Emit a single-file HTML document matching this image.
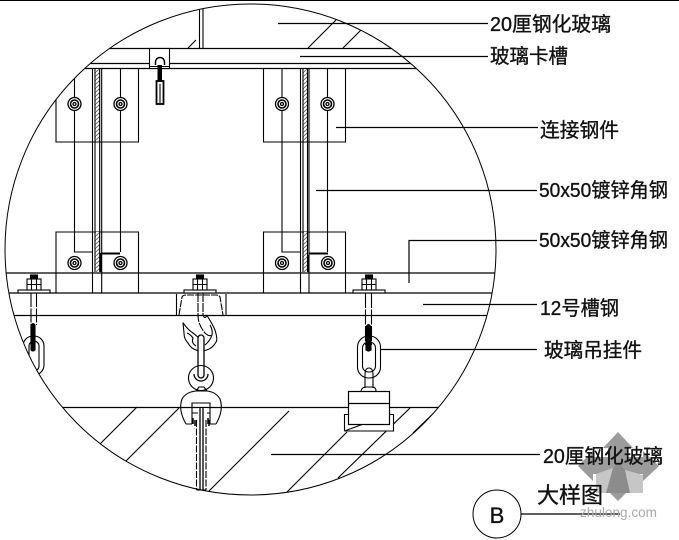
<!DOCTYPE html>
<html><head><meta charset="utf-8"><style>
html,body{margin:0;padding:0;background:#fff;width:679px;height:540px;overflow:hidden}
svg{display:block}
text{font-family:"Liberation Sans","WenQuanYi Zen Hei","Noto Sans CJK SC",sans-serif;fill:#111;font-size:20px;stroke:#111;stroke-width:.35px}
</style></head><body>
<svg width="679" height="540" viewBox="0 0 679 540" xmlns="http://www.w3.org/2000/svg">
<defs>
<clipPath id="c"><circle cx="250.5" cy="249.5" r="245.5"/></clipPath>
<pattern id="h" width="4" height="4" patternUnits="userSpaceOnUse"><rect width="4" height="4" fill="#fff"/><path d="M0 4L4 0" stroke="#777" stroke-width="1"/></pattern>
<g id="bolt" fill="#fff" stroke="#000" stroke-width="1.3"><circle r="6.5"/><circle r="4" stroke-width="1.6"/><circle r="1.5"/></g>
<g id="nut" fill="#fff" stroke="#000" stroke-width="1.1">
<rect x="-16" y="-3" width="32" height="3"/>
<rect x="-3.5" y="-18" width="7" height="4" fill="#000"/>
<rect x="-7" y="-14" width="14" height="11"/>
<path d="M-2.5 -14V-3M2.5 -14V-3M-7 -8.500H7"/>
</g>
</defs>
<rect width="679" height="540" fill="#fff"/>
<rect x="0" y="0" width="679" height="1" fill="#000"/>

<!-- watermark -->
<g>
<path d="M618 432L633 448H628V457H643V451L659 466L643 481V474H628V486H633L618 501L603 486H608V474H593V481L578 466L593 451V457H608V448H603Z" fill="#9c9c9c"/>
<path d="M596 474L613 468L610 493H596Z M625 470L643 475V493H625Z" fill="#c6c6c6"/>
<path d="M613 468L618 462L625 470L630 493H606Z" fill="#8c8c8c"/>
</g>

<g clip-path="url(#c)" fill="none" stroke="#000" stroke-width="1.1">
<!-- top glass -->
<path d="M199.500 0V48M203 0V48"/>
<path d="M188 48L196 40M308 48L338 18M343 48L364 27"/>
<path d="M0 48.500H679M0 63.500H679M0 68.500H679" stroke-width="1.2"/>
<!-- plates -->
<path d="M56 68V142H138.500V68M263.500 68V142H345.500V68"/>
<path d="M56 293V232H138.500V293M263.500 293V232H345.500V293"/>
<!-- hatch strips -->
<rect x="95" y="69" width="5" height="72" fill="url(#h)" stroke="none"/>
<rect x="303" y="69" width="5" height="72" fill="url(#h)" stroke="none"/>
<rect x="95" y="232" width="5" height="40" fill="url(#h)" stroke="none"/>
<rect x="303" y="232" width="5" height="40" fill="url(#h)" stroke="none"/>
<!-- uprights -->
<path d="M74.500 68V252H93M120.500 68V252"/>
<path d="M92.500 68V293M95 68V272M99.700 68V272M101.700 68V293"/>
<path d="M282 68V252H300M327.500 68V252"/>
<path d="M300.500 68V293M303 68V272M307.500 68V272M309 68V293"/>
<path d="M101 253.500H120M309 253.500H328M100.500 253V272M308.500 255V272" stroke-width="2"/>
<!-- long horizontals -->
<path d="M0 273H679M0 293H679M0 315.500H679" stroke-width="1.2"/>
<path d="M0 407.500H679" stroke-width="1.2"/>
<!-- lower hatches -->
<path d="M137 407L95 449M179 408L130 457L100 487M289 411L209 491M347 432L287 492M410 408L338 478M440 407L413 433"/>
</g>

<!-- clip bracket -->
<g fill="none" stroke="#000" stroke-width="1.1">
<rect x="149.500" y="48.500" width="20" height="20" fill="#fff"/>
<path d="M149.500 66.500H169.500"/>
<path d="M155.500 65V62a4.500 4.500 0 0 1 9 0V65" stroke-width="1.5"/>
<rect x="157.500" y="65" width="4.500" height="16" fill="#000" stroke="none"/>
<rect x="156.500" y="81" width="7" height="23" fill="#fff" stroke-width="1.8"/>
<path d="M160 84V103"/>
</g>

<g>
<use href="#bolt" x="74.500" y="104"/><use href="#bolt" x="120.500" y="104"/>
<use href="#bolt" x="282" y="104"/><use href="#bolt" x="327.500" y="104"/>
<use href="#bolt" x="74.500" y="263"/><use href="#bolt" x="120.500" y="263"/>
<use href="#bolt" x="282" y="263"/><use href="#bolt" x="328" y="263"/>
</g>

<!-- left hanger -->
<g fill="none" stroke="#000" stroke-width="1.1" clip-path="url(#c)">
<path d="M31 293V345M36.500 293V325" stroke-dasharray="14 1.500"/>
<rect x="23" y="336" width="21" height="39" rx="10"/>
<rect x="29" y="341" width="10" height="30" rx="5"/>
<path d="M31 350V325q2-3 4 0V350q-2 2-4 0Z" fill="#000"/>
</g>
<use href="#nut" x="34" y="293"/>
<use href="#nut" x="200" y="293"/>
<use href="#nut" x="369" y="293"/>

<!-- centre hanger: channel, hook, ring and clamp -->
<g fill="none" stroke="#000" stroke-width="1.1">
<path d="M176.500 294V315M226 294V315"/>
<path d="M179 315L182 297Q183 295 186 295H216Q219 295 220 297L223 315" stroke-dasharray="7 1"/>
<path d="M198 293V315Q198 325 205 333Q209 337 212 335M203 293V315Q205 320 207 315" stroke-dasharray="9 1"/>
<path d="M206.700 315Q213 325 215 330Q218 340 216 342Q213 348 206.700 350Q202 351.500 198 350.700Q191 349 188 343Q184 339 184 333L183 322.700Q188 330 193 333L199 338"/>
<path d="M187 333Q190 334 193 338Q191 343 196 346M210 325Q213 330 212 335Q210 341 205 345"/>
<rect x="198" y="335" width="6" height="43" rx="3" fill="#fff" stroke-width="1.3"/>
<circle cx="201" cy="378" r="12.500"/>
<path d="M194 374a7 7 0 1 0 14 0" stroke-width="1.300"/>
<path d="M196 391L199 387H204L207 391"/>
<path d="M186 424Q178 410 182 399Q186 392 196 391H207Q216 392 220 399Q224 410 216 424"/>
<path d="M186 424H192M210 424H216"/>
<path d="M192 424V403H210V424"/>
<path d="M192 413H210"/>
<path d="M195 420V426M209 420V426M193 418V424M208 418V424" stroke-width="1.5"/>
<rect x="198" y="408" width="9" height="82" fill="#fff" stroke="none"/>
<path d="M196.500 420V490M206 420V490" stroke-dasharray="7 1.500"/>
<path d="M200 408V490M203 408V490" stroke-width="1.300"/>
<path d="M196.500 490H206"/>
</g>

<!-- right hanger -->
<g fill="none" stroke="#000" stroke-width="1.1">
<path d="M365.500 293V345M371.500 293V345" stroke-dasharray="15 1.500"/>
<rect x="357.500" y="336" width="23" height="42" rx="11"/>
<rect x="362.500" y="342" width="13" height="30" rx="6"/>
<path d="M366 350V327q2.500-5 5 0V350q-2.500 2-5 0Z" fill="#000"/>
<path d="M365 388V375q0-7 4-7t4 7V388"/>
<path d="M361 391Q362 387 366 387H372Q376 387 376 391"/>
<path d="M344.500 431V414.500H348M389 414.500H393.500V431H344.500Z" fill="#fff"/>
<rect x="348.500" y="391.500" width="41" height="33" fill="#fff" stroke-width="1.200"/>
<path d="M348.500 403.500H389.500" stroke-width="1.200"/>
</g>

<!-- circle -->
<circle cx="250.500" cy="249.500" r="245.500" fill="none" stroke="#000" stroke-width="1"/>

<!-- leaders -->
<g fill="none" stroke="#000" stroke-width="1.200">
<path d="M278 23.500H488M300 56.500H488M336 127.500H538M316 190.500H537M409 283V240.500H537M423 304.500H537M380 349.500H537M271 454.500H540"/>
<path d="M521 514H620"/>
</g>

<text x="490" y="31" textLength="121" lengthAdjust="spacingAndGlyphs">20厘钢化玻璃</text>
<text x="490" y="63" textLength="78" lengthAdjust="spacingAndGlyphs">玻璃卡槽</text>
<text x="540" y="137" textLength="79" lengthAdjust="spacingAndGlyphs">连接钢件</text>
<text x="539" y="197" textLength="129" lengthAdjust="spacingAndGlyphs">50x50镀锌角钢</text>
<text x="539" y="247" textLength="129" lengthAdjust="spacingAndGlyphs">50x50镀锌角钢</text>
<text x="540" y="315" textLength="79" lengthAdjust="spacingAndGlyphs">12号槽钢</text>
<text x="544" y="357" textLength="98" lengthAdjust="spacingAndGlyphs">玻璃吊挂件</text>
<text x="543" y="463" textLength="120" lengthAdjust="spacingAndGlyphs">20厘钢化玻璃</text>
<text x="537" y="503" style="font-size:22px" textLength="66" lengthAdjust="spacingAndGlyphs">大样图</text>

<circle cx="497" cy="514" r="24" fill="#fff" stroke="#000" stroke-width="1"/>
<text x="497" y="523" text-anchor="middle" style="font-size:22px">B</text>
<text x="580" y="517" style="font-size:13.500px;fill:#aaa;stroke:none" textLength="77" lengthAdjust="spacingAndGlyphs">zhulong.com</text>
</svg>
</body></html>
